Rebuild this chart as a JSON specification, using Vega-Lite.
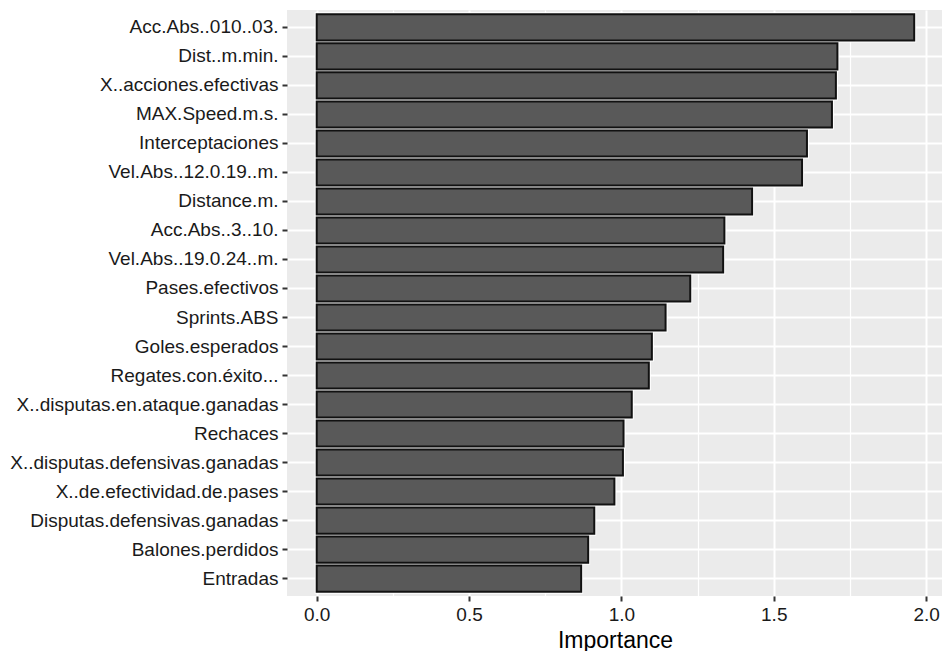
{
  "$schema": "https://vega.github.io/schema/vega-lite/v6.json",
  "width": 656,
  "height": 586,
  "autosize": {"type": "none"},
  "padding": {"left": 287, "top": 10, "right": 0, "bottom": 55},
  "background": "white",
  "config": {
    "view": {"fill": "#EBEBEB", "stroke": null},
    "font": "Liberation Sans"
  },
  "data": {
    "values": [
      {"feature": "Acc.Abs..010..03.", "importance": 1.961},
      {"feature": "Dist..m.min.", "importance": 1.709},
      {"feature": "X..acciones.efectivas", "importance": 1.704},
      {"feature": "MAX.Speed.m.s.", "importance": 1.691},
      {"feature": "Interceptaciones", "importance": 1.609},
      {"feature": "Vel.Abs..12.0.19..m.", "importance": 1.593},
      {"feature": "Distance.m.", "importance": 1.429},
      {"feature": "Acc.Abs..3..10.", "importance": 1.338},
      {"feature": "Vel.Abs..19.0.24..m.", "importance": 1.334},
      {"feature": "Pases.efectivos", "importance": 1.226},
      {"feature": "Sprints.ABS", "importance": 1.145},
      {"feature": "Goles.esperados", "importance": 1.100},
      {"feature": "Regates.con.éxito...", "importance": 1.090},
      {"feature": "X..disputas.en.ataque.ganadas", "importance": 1.034},
      {"feature": "Rechaces", "importance": 1.007},
      {"feature": "X..disputas.defensivas.ganadas", "importance": 1.005},
      {"feature": "X..de.efectividad.de.pases", "importance": 0.977},
      {"feature": "Disputas.defensivas.ganadas", "importance": 0.911},
      {"feature": "Balones.perdidos", "importance": 0.891},
      {"feature": "Entradas", "importance": 0.868}
    ]
  },
  "encoding": {
    "y": {
      "field": "feature",
      "type": "nominal",
      "sort": {"field": "importance", "order": "descending"},
      "scale": {"paddingInner": 0.1, "paddingOuter": 0.15},
      "axis": {
        "title": null,
        "labelFontSize": 19,
        "labelColor": "#1a1a1a",
        "labelPadding": 4,
        "labelLimit": 400,
        "tickColor": "#333333",
        "tickSize": 5,
        "tickWidth": 2,
        "domain": false,
        "grid": true,
        "gridColor": "white",
        "gridWidth": 2,
        "bandPosition": 0.5
      }
    },
    "x": {
      "field": "importance",
      "type": "quantitative",
      "scale": {"domain": [-0.0975, 2.0555], "nice": false, "zero": false},
      "axis": {
        "title": "Importance",
        "titleFontSize": 23,
        "titleFontWeight": "normal",
        "titleColor": "#000000",
        "titlePadding": 5,
        "values": [0, 0.25, 0.5, 0.75, 1, 1.25, 1.5, 1.75, 2],
        "labelExpr": "(datum.value * 2) % 1 === 0 ? format(datum.value, '.1f') : ''",
        "labelFontSize": 19,
        "labelColor": "#1a1a1a",
        "labelPadding": 4,
        "tickColor": "#333333",
        "tickSize": 5,
        "tickWidth": 2,
        "tickOpacity": {"condition": {"test": "(datum.value * 2) % 1 === 0", "value": 1}, "value": 0},
        "domain": false,
        "grid": true,
        "gridColor": "white",
        "gridWidth": {"condition": {"test": "(datum.value * 2) % 1 === 0", "value": 2}, "value": 1.2}
      }
    }
  },
  "layer": [
    {"mark": {"type": "bar", "fill": "white", "stroke": "white", "strokeWidth": 4}},
    {"mark": {"type": "bar", "fill": "#595959", "stroke": "#111111", "strokeWidth": 2}}
  ]
}
